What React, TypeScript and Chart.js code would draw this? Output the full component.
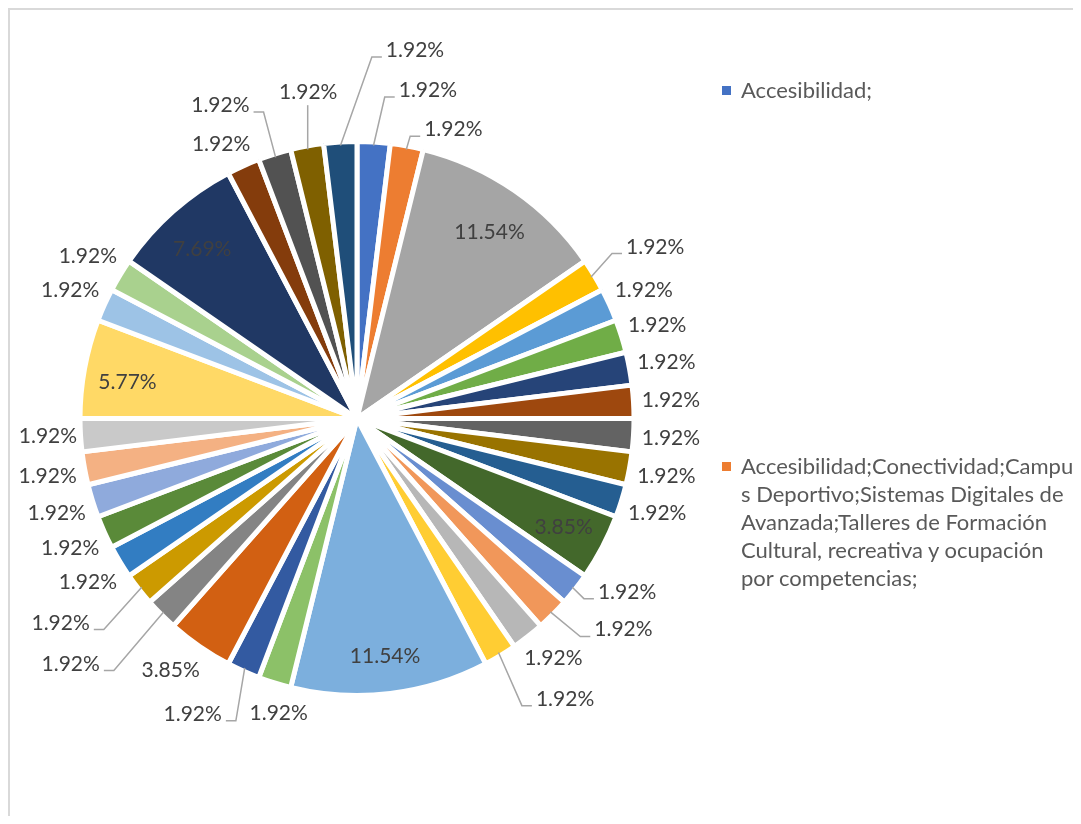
import React, { useEffect, useRef } from "react";
import { Chart, PieController, ArcElement } from "chart.js";

Chart.register(PieController, ArcElement);

// ---------- data ----------
const categories: string[] = [
  "Accesibilidad;",
  "Accesibilidad;Conectividad;Campus Deportivo;Sistemas Digitales de Avanzada;Talleres de Formación Cultural, recreativa y ocupación por competencias;",
  ...Array.from({ length: 33 }, (_, i) => `Categoría ${i + 3}`),
];

// number of responses per category (52 in total)
const responses: number[] = [
  1, 1, 6, 1, 1, 1, 1, 1, 1, 1, 1, 2, 1, 1, 1, 1, 6, 1, 1, 2, 1, 1, 1, 1, 1, 1, 1, 3, 1, 1, 4, 1, 1, 1, 1,
];

const sliceColors: string[] = [
  "#4472C4", "#ED7D31", "#A5A5A5", "#FFC000", "#5B9BD5", "#70AD47",
  "#264478", "#9E480E", "#636363", "#997300", "#255E91", "#43682B",
  "#698ED0", "#F1975A", "#B7B7B7", "#FFCD33", "#7CAFDD", "#8CC168",
  "#335AA1", "#D26012", "#848484", "#CC9A00", "#327DC2", "#5A8A39",
  "#8FAADC", "#F4B183", "#C9C9C9", "#FFD966", "#9DC3E6", "#A9D18E",
  "#203864", "#843C0C", "#525252", "#7F6000", "#1F4E79",
];

// label layout hints (best-fit moves): slice index -> [angle shift in degrees, distance beyond the rim in px]
const labelAdjust: Record<number, [number, number]> = {
  0: [8.7, 62],
  1: [8.0, 31],
  3: [1.1, 70],
  12: [-5.5, 46],
  13: [-6.7, 65],
  14: [-1.3, 35],
  15: [-5.5, 74],
  17: [-2.4, 30],
  18: [4.9, 63],
  19: [2.0, 38],
  20: [4.5, 102],
  21: [3.6, 85],
  26: [0.3, 35],
  31: [-2.1, 32],
  32: [-6.2, 68],
  33: [1.9, 56],
  34: [12.4, 99],
};

const FONT = "Lato, 'Open Sans', sans-serif";
const LABEL_PX = 21;
const LEGEND_PX = 22;
const BORDER = 5;
const DEFAULT_EXTRA = 40;

const legendLines: string[] = [
  "Accesibilidad;Conectividad;Campu",
  "s Deportivo;Sistemas Digitales de",
  "Avanzada;Talleres de Formación",
  "Cultural, recreativa y ocupación",
  "por competencias;",
];

function normAngle(a: number, start: number) {
  while (a < start) a += Math.PI * 2;
  while (a >= start + Math.PI * 2) a -= Math.PI * 2;
  return a;
}

function fitsInside(
  px: number, py: number, start: number, end: number, rVis: number,
  cx: number, cy: number, w: number, h: number
) {
  const corners = [
    [cx - w / 2, cy - h / 2], [cx + w / 2, cy - h / 2],
    [cx - w / 2, cy + h / 2], [cx + w / 2, cy + h / 2],
  ];
  for (const [x, y] of corners) {
    const dx = x - px, dy = y - py;
    const dist = Math.hypot(dx, dy);
    if (dist > rVis - 3) return false;
    const a = normAngle(Math.atan2(dy, dx), start);
    if (a > end) return false;
    const m1 = a - start, m2 = end - a;
    if (m1 < Math.PI / 2 && dist * Math.sin(m1) < 4) return false;
    if (m2 < Math.PI / 2 && dist * Math.sin(m2) < 4) return false;
  }
  return true;
}

const sliceLabelPlugin = {
  id: "sliceLabels",
  afterDatasetsDraw(chart: any) {
    const ctx: CanvasRenderingContext2D = chart.ctx;
    const meta = chart.getDatasetMeta(0);
    const total = responses.reduce((s, v) => s + v, 0);
    ctx.save();
    ctx.font = `${LABEL_PX}px ${FONT}`;
    ctx.textAlign = "center";
    ctx.textBaseline = "alphabetic";
    const capH = LABEL_PX * 0.72;
    meta.data.forEach((arc: any, i: number) => {
      const p = arc.getProps(["x", "y", "startAngle", "endAngle", "outerRadius"], true);
      const rVis = p.outerRadius - BORDER / 2;
      const mid = (p.startAngle + p.endAngle) / 2;
      const text = ((responses[i] / total) * 100).toFixed(2) + "%";
      const w = ctx.measureText(text).width;
      const h = capH;
      ctx.fillStyle = "#404040";

      const ri = rVis * 0.85;
      const icx = p.x + ri * Math.cos(mid);
      const icy = p.y + ri * Math.sin(mid);
      if (fitsInside(p.x, p.y, p.startAngle, p.endAngle, rVis, icx, icy, w, h + 2)) {
        const shift = responses[i] > 2 ? 5 : 0;
        ctx.fillText(text, icx, icy + h / 2 + shift);
        return;
      }

      const [dDeg, extra] = labelAdjust[i] ?? [0, DEFAULT_EXTRA];
      const a = mid + (dDeg * Math.PI) / 180;
      const d = rVis + extra;
      const lx = p.x + d * Math.cos(a);
      const ly = p.y + d * Math.sin(a);
      ctx.fillText(text, lx, ly + h / 2);

      if (extra > 51 || Math.abs(dDeg) > 5) {
        const ex = p.x + (rVis - 1) * Math.cos(mid);
        const ey = p.y + (rVis - 1) * Math.sin(mid);
        const left = lx - w / 2;
        const right = lx + w / 2;
        const ay = ly + h / 2;
        ctx.beginPath();
        ctx.moveTo(ex, ey);
        if (left - 2 > ex) {
          ctx.lineTo(left - 14, ay);
          ctx.lineTo(left - 4, ay);
        } else if (right + 2 < ex) {
          ctx.lineTo(right + 14, ay);
          ctx.lineTo(right + 4, ay);
        } else if (ly < ey) {
          ctx.lineTo(ex, ly + h / 2 + 6);
        } else {
          ctx.lineTo(ex, ly - h / 2 - 6);
        }
        ctx.strokeStyle = "#A6A6A6";
        ctx.lineWidth = 1.5;
        ctx.stroke();
      }
    });
    ctx.restore();
  },
};

export default function App() {
  const canvasRef = useRef<HTMLCanvasElement | null>(null);

  useEffect(() => {
    if (!canvasRef.current) return;
    const chart = new Chart(canvasRef.current, {
      type: "pie",
      data: {
        labels: categories,
        datasets: [
          {
            data: responses,
            backgroundColor: sliceColors,
            borderColor: "#FFFFFF",
            borderWidth: BORDER,
            radius: 277,
          } as any,
        ],
      },
      options: {
        responsive: false,
        animation: false,
        layout: { padding: { left: 0, right: 26, top: 11, bottom: 0 } },
        plugins: {
          legend: { display: false },
          tooltip: { enabled: false },
        },
      } as any,
      plugins: [sliceLabelPlugin],
    });
    if ((document as any).fonts?.ready) {
      (document as any).fonts.ready.then(() => chart.draw());
    }
    return () => chart.destroy();
  }, []);

  const legendText: React.CSSProperties = {
    position: "absolute",
    left: 731,
    fontFamily: FONT,
    fontSize: LEGEND_PX,
    lineHeight: "28px",
    color: "#595959",
    whiteSpace: "nowrap",
  };
  const marker: React.CSSProperties = {
    position: "absolute",
    left: 712,
    width: 9,
    height: 9,
  };

  return (
    <div
      style={{
        position: "relative",
        width: 1065,
        height: 808,
        boxSizing: "border-box",
        borderLeft: "2px solid #D9D9D9",
        borderTop: "2px solid #D9D9D9",
        background: "#FFFFFF",
      }}
    >
      <canvas
        ref={canvasRef}
        width={720}
        height={806}
        style={{ position: "absolute", left: 0, top: 0, width: 720, height: 806 }}
      />
      <div style={{ ...marker, top: 76, background: sliceColors[0] }} />
      <div style={{ ...legendText, top: 66 }}>{categories[0]}</div>
      <div style={{ ...marker, top: 452, background: sliceColors[1] }} />
      <div style={{ ...legendText, top: 442 }}>
        {legendLines.map((line, k) => (
          <div key={k}>{line}</div>
        ))}
      </div>
    </div>
  );
}
